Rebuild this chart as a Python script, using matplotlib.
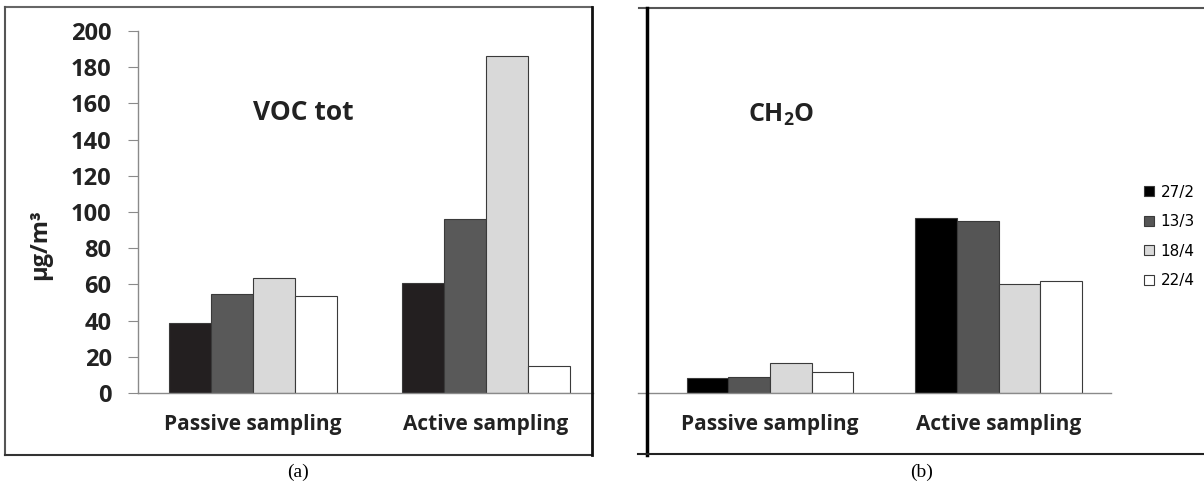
import matplotlib
matplotlib.use('Agg')
import numpy as np
import matplotlib.pyplot as plt
from matplotlib.lines import Line2D

plt.rcParams['font.family'] = ['Open Sans', 'DejaVu Sans']
plt.rcParams['mathtext.fontset'] = 'custom'
plt.rcParams['mathtext.rm'] = 'Open Sans'
plt.rcParams['mathtext.bf'] = 'Open Sans:bold'

groups = ['Passive sampling', 'Active sampling']
dates = ['27/2', '13/3', '18/4', '22/4']

# concentrations in ug/m3, one entry per sampling date
voc_passive = [38.9, 54.8, 63.8, 53.5]
voc_active = [60.5, 96.3, 186.2, 14.7]
ch2o_passive = [8.3, 9.0, 16.7, 11.7]
ch2o_active = [96.7, 95.0, 60.0, 62.0]
yticks = [0, 20, 40, 60, 80, 100, 120, 140, 160, 180, 200]

W, H = 1204, 488
fig = plt.figure(figsize=(W / 100, H / 100), dpi=100)


def px(x, y):
    return x / W, 1 - y / H


def hline(y, x0, x1, color, lw):
    fig.add_artist(Line2D([x0 / W, x1 / W], [1 - y / H, 1 - y / H], color=color, lw=lw))


def vline(x, y0, y1, color, lw):
    fig.add_artist(Line2D([x / W, x / W], [1 - y0 / H, 1 - y1 / H], color=color, lw=lw))


def grouped_bars(ax, passive, active, colors, width):
    x = np.arange(len(groups))
    bars = []
    for i, d in enumerate(dates):
        b = ax.bar(x + (i - 1.5) * width, [passive[i], active[i]], width,
                   color=colors[i], edgecolor='#3a3a3a', linewidth=0.8, label=d)
        bars.append(b)
    ax.set_xticks(x)
    ax.set_xticklabels(groups, fontsize=15, fontweight='bold', color='#222222')
    ax.tick_params(axis='x', length=0, pad=15)
    ax.set_ylim(0, 200)
    for s in ['top', 'right']:
        ax.spines[s].set_visible(False)
    ax.spines['bottom'].set_color('#8a8a8a')
    ax.spines['bottom'].set_linewidth(1.0)
    return bars


# (a) total VOC
ax1 = fig.add_axes([138 / W, 1 - 393 / H, 455 / W, 362 / H])
grouped_bars(ax1, voc_passive, voc_active, ['#231f20', '#595959', '#d9d9d9', '#ffffff'], 0.18)
ax1.set_xlim(-0.494, 1.459)
ax1.set_yticks(yticks)
ax1.set_yticklabels([str(t) for t in yticks], fontsize=17, fontweight='bold', color='#222222')
ax1.tick_params(axis='y', length=7, color='#8a8a8a', pad=12)
ax1.spines['left'].set_color('#8a8a8a')
ax1.spines['left'].set_linewidth(1.0)
fig.text(*px(40, 245), 'µg/m³', rotation=90, ha='center', va='center',
         fontsize=17, fontweight='bold', color='#222222')
fig.text(*px(303, 113), 'VOC tot', ha='center', va='center',
         fontsize=19, fontweight='bold', color='#222222')

# (b) formaldehyde
ax2 = fig.add_axes([638 / W, 1 - 393 / H, 473 / W, 362 / H])
bars = grouped_bars(ax2, ch2o_passive, ch2o_active, ['#000000', '#555555', '#d9d9d9', '#ffffff'], 0.182)
ax2.set_xlim(-0.578, 1.492)
ax2.spines['left'].set_visible(False)
ax2.set_yticks([])
fig.text(*px(781, 115), r'$\mathbf{CH_2O}$', ha='center', va='center',
         fontsize=18, color='#222222')
fig.legend(handles=bars, labels=dates, loc='upper left', bbox_to_anchor=px(1136, 177),
           frameon=False, borderpad=0, handlelength=0.65, handleheight=0.65,
           handletextpad=0.45, labelspacing=0.95, prop={'family': 'DejaVu Sans', 'size': 11})

# panel frames
hline(7, 5, 592, '#666666', 1.5)
vline(5, 7, 455, '#555555', 1.5)
hline(455, 5, 592, '#333333', 1.5)
vline(592, 7, 455, '#111111', 2.0)
hline(8, 639, 1204, '#555555', 1.5)
vline(647, 8, 455, '#000000', 2.5)
hline(454, 638, 1204, '#222222', 1.5)

fig.text(*px(298, 472), '(a)', ha='center', va='center', fontsize=14, family='Liberation Serif')
fig.text(*px(922, 472), '(b)', ha='center', va='center', fontsize=14, family='Liberation Serif')

fig.savefig('out.png', dpi=100, facecolor='white')
